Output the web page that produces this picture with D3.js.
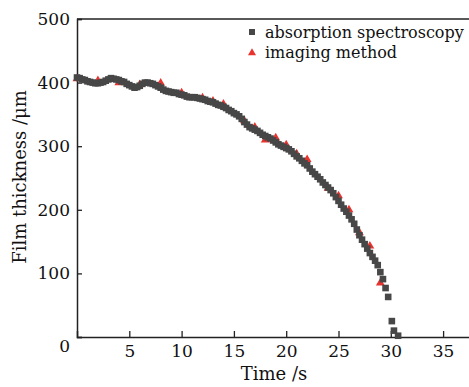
<!DOCTYPE html>
<html>
<head>
<meta charset="utf-8">
<script src="https://cdn.jsdelivr.net/npm/d3@7"></script>
<style>
  html, body { margin: 0; padding: 0; background: #fff; }
  svg text { font-family: "DejaVu Serif", "Liberation Serif", serif; fill: #111; }
</style>
</head>
<body>
<svg id="chart" width="469" height="387"></svg>
<script>
// absorption spectroscopy (squares)
const absTime = [0,0.25,0.5,0.75,1,1.25,1.5,1.75,2,2.25,2.5,2.75,3,3.25,3.5,3.75,4,4.25,4.5,4.75,
  5,5.25,5.5,5.75,6,6.25,6.5,6.75,7,7.25,7.5,7.75,8,8.25,8.5,8.75,9,9.25,9.5,9.75,
  10,10.25,10.5,10.75,11,11.25,11.5,11.75,12,12.25,12.5,12.75,13,13.25,13.5,13.75,14,14.25,14.5,14.75,
  15,15.25,15.5,15.75,16,16.25,16.5,16.75,17,17.25,17.5,17.75,18,18.25,18.5,18.75,19,19.25,19.5,19.75,
  20,20.25,20.5,20.75,21,21.25,21.5,21.75,22,22.25,22.5,22.75,23,23.25,23.5,23.75,24,24.25,24.5,24.75,
  25,25.25,25.5,25.75,26,26.25,26.5,26.75,27,27.25,27.5,27.75,28,28.25,28.5,28.75,29,29.25,29.5,29.75,
  30.1,30.3,30.7];
const absThick = [408,407,405,404,402,401,400,399,399,400,401,403,405,407,406,405,404,402,401,398,
  396,394,392,393,395,398,400,400,399,398,396,394,392,389,387,386,385,384,384,382,
  381,380,378,377,377,377,376,375,374,373,371,370,369,367,365,364,362,360,357,355,
  352,350,347,343,338,334,330,328,326,324,321,318,316,314,312,309,306,303,301,299,
  297,295,292,288,284,281,277,273,270,265,260,256,252,248,243,239,235,231,226,220,
  214,208,202,197,191,185,178,169,160,153,146,139,132,126,120,113,102,91,77,63,
  25,10,2];

// imaging method (triangles)
const imgTime = [0,2,4,6,8,10,12,13,14,16,17,18,19,20,21,22,24,25,26,27,28,29];
const imgThick = [406,403,400,397,399,384,376,371,366,340,330,310,313,302,288,279,234,222,200,164,143,85];

const xTicks = [5,10,15,20,25,30,35];
const yTicks = [0,100,200,300,400,500];
const seriesNames = ["absorption spectroscopy", "imaging method"];

const svg = d3.select("#chart");
const plotLeft = 77, plotTop = 19, plotBottom = 337;

const x = d3.scaleLinear().domain([0, 40]).range([plotLeft, plotLeft + 418.4]);
const y = d3.scaleLinear().domain([0, 500]).range([plotBottom, plotTop]);

// frame (top line, right side falls outside the window)
svg.append("path")
  .attr("d", `M${x(0)},${y(500)}H${x(40)}V${y(0)}`)
  .attr("fill", "none").attr("stroke", "#222").attr("stroke-width", 1.5);

const xAxis = svg.append("g")
  .attr("transform", `translate(0,${plotBottom})`)
  .call(d3.axisBottom(x).tickValues(xTicks).tickSize(-6).tickPadding(8));
const yAxis = svg.append("g")
  .attr("transform", `translate(${plotLeft},0)`)
  .call(d3.axisLeft(y).tickValues(yTicks).tickSize(-5).tickPadding(7));

[xAxis, yAxis].forEach(function(g) {
  g.select(".domain").attr("stroke", "#222").attr("stroke-width", 1.5);
  g.selectAll(".tick line").attr("stroke", "#222").attr("stroke-width", 1.3);
  g.selectAll(".tick text").style("font-size", "17px").attr("fill", "#111");
});
// the zero label sits a little below the corner in the original
yAxis.selectAll(".tick text").filter(d => d === 0).attr("dy", "0.85em");

// axis titles
svg.append("text")
  .attr("x", 274).attr("y", 380)
  .attr("text-anchor", "middle")
  .style("font-size", "18px")
  .text("Time /s");
svg.append("text")
  .attr("transform", "translate(26,177) rotate(-90)")
  .attr("text-anchor", "middle")
  .style("font-size", "18px")
  .text("Film thickness /μm");

const tri = d3.symbol().type(d3.symbolTriangle).size(34);

// triangles first, squares drawn over them
svg.append("g").selectAll("path")
  .data(imgTime)
  .enter()
  .append("path")
  .attr("d", tri)
  .attr("transform", (d, i) => `translate(${x(d)},${y(imgThick[i])})`)
  .attr("fill", "#e8332e");

svg.append("g").selectAll("rect")
  .data(absTime)
  .enter()
  .append("rect")
  .attr("x", d => x(d) - 3.3)
  .attr("y", (d, i) => y(absThick[i]) - 3.3)
  .attr("width", 6.6)
  .attr("height", 6.6)
  .attr("fill", "#474747");

// legend
const legend = svg.append("g");
legend.append("rect")
  .attr("x", 249).attr("y", 29).attr("width", 6).attr("height", 6)
  .attr("fill", "#474747");
legend.append("path")
  .attr("d", d3.symbol().type(d3.symbolTriangle).size(28))
  .attr("transform", "translate(252,53)")
  .attr("fill", "#e8332e");
legend.selectAll("text")
  .data(seriesNames)
  .enter()
  .append("text")
  .attr("x", 265)
  .attr("y", (d, i) => 38 + i * 20)
  .style("font-size", "16px")
  .text(d => d);
</script>
</body>
</html>
